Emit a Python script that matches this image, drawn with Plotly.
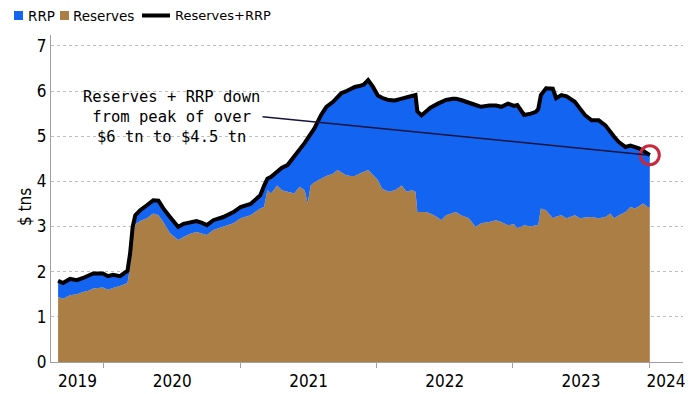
import plotly.graph_objects as go
import pandas as pd

# ---------------- data ----------------
dates = [
    "2019-08-31", "2019-09-13", "2019-10-02", "2019-10-20", "2019-11-06", "2019-11-20",
    "2019-12-03", "2019-12-29", "2020-01-12", "2020-01-25", "2020-02-13", "2020-02-26",
    "2020-03-04", "2020-03-11", "2020-03-18", "2020-03-25", "2020-04-07", "2020-04-25",
    "2020-05-12", "2020-05-26", "2020-06-08", "2020-06-26", "2020-07-18", "2020-08-01",
    "2020-08-19", "2020-09-05", "2020-09-20", "2020-10-03", "2020-10-20", "2020-11-16",
    "2020-12-13",
    "2021-01-01", "2021-01-28", "2021-02-23", "2021-03-05", "2021-03-14", "2021-03-24",
    "2021-04-09", "2021-04-22", "2021-05-07", "2021-05-25", "2021-06-08", "2021-06-22",
    "2021-06-30", "2021-07-08", "2021-07-18", "2021-08-05", "2021-08-19", "2021-09-06",
    "2021-09-18", "2021-09-28", "2021-10-10", "2021-10-22", "2021-11-03", "2021-11-15",
    "2021-11-27", "2021-12-09", "2021-12-22",
    "2022-01-04", "2022-01-15", "2022-02-02", "2022-02-19", "2022-03-09", "2022-03-22",
    "2022-04-05", "2022-04-15", "2022-04-20", "2022-05-01", "2022-05-13", "2022-05-25",
    "2022-06-14", "2022-06-23", "2022-07-06", "2022-07-24", "2022-08-01", "2022-08-15",
    "2022-09-05", "2022-09-23", "2022-10-08", "2022-10-30", "2022-11-17", "2022-12-01",
    "2022-12-19",
    "2023-01-04", "2023-01-13", "2023-01-31", "2023-02-18", "2023-03-04", "2023-03-10",
    "2023-03-17", "2023-03-31", "2023-04-18", "2023-04-27", "2023-05-11", "2023-05-25",
    "2023-06-16", "2023-06-30", "2023-07-13", "2023-07-31", "2023-08-19", "2023-09-06",
    "2023-09-19", "2023-09-30", "2023-10-12", "2023-10-30", "2023-11-12", "2023-11-24",
    "2023-12-05", "2023-12-16", "2023-12-28", "2024-01-03",
]

reserves = [
    1.44, 1.40, 1.48, 1.50, 1.55, 1.58,
    1.63, 1.65, 1.60, 1.64, 1.68, 1.72,
    1.75, 2.10, 2.75, 3.05, 3.12, 3.18,
    3.29, 3.25, 3.10, 2.85, 2.70, 2.77,
    2.84, 2.88, 2.84, 2.81, 2.92, 2.99,
    3.07,
    3.18, 3.25, 3.40, 3.43, 3.80, 3.73,
    3.91, 3.80, 3.77, 3.73, 3.88, 3.80,
    3.51, 3.91, 3.98, 4.06, 4.12, 4.17,
    4.25, 4.20, 4.14, 4.12, 4.12, 4.17,
    4.21, 4.25, 4.14,
    4.03, 3.84, 3.77, 3.80, 3.91, 3.77,
    3.80, 3.77, 3.32, 3.32, 3.32, 3.29,
    3.20, 3.14, 3.25, 3.30, 3.32, 3.25,
    3.18, 2.99, 3.07, 3.10, 3.14, 3.10,
    3.03,
    3.05, 2.96, 3.03, 3.00, 3.03, 3.03,
    3.40, 3.36, 3.18, 3.22, 3.25, 3.18,
    3.25, 3.18, 3.20, 3.21, 3.18, 3.21,
    3.29, 3.18, 3.25, 3.32, 3.43, 3.40,
    3.45, 3.51, 3.43, 3.43,
]

total = [
    1.80, 1.75, 1.84, 1.81, 1.86, 1.90,
    1.96, 1.96, 1.90, 1.93, 1.90, 1.98,
    2.02, 2.40, 3.00, 3.25, 3.36, 3.47,
    3.58, 3.57, 3.40, 3.21, 2.99, 3.06,
    3.10, 3.12, 3.08, 3.03, 3.14, 3.21,
    3.32,
    3.43, 3.50, 3.69, 3.90, 4.06, 4.10,
    4.20, 4.30, 4.36, 4.54, 4.68, 4.85,
    4.95, 5.05, 5.17, 5.47, 5.65, 5.76,
    5.85, 5.95, 5.99, 6.04, 6.09, 6.11,
    6.14, 6.24, 6.09,
    5.90, 5.85, 5.80, 5.79, 5.83, 5.87,
    5.89, 5.91, 5.55, 5.46, 5.55, 5.63,
    5.72, 5.75, 5.80, 5.83, 5.83, 5.80,
    5.73, 5.69, 5.65, 5.68, 5.68, 5.65,
    5.72,
    5.67, 5.69, 5.47, 5.50, 5.54, 5.60,
    5.91, 6.06, 6.05, 5.84, 5.91, 5.88,
    5.76, 5.61, 5.47, 5.35, 5.35, 5.24,
    5.08, 4.98, 4.87, 4.76, 4.79, 4.76,
    4.73, 4.68, 4.62, 4.58,
]

year_labels = ["2019", "2020", "2021", "2022", "2023", "2024"]
y_tick_values = [0, 1, 2, 3, 4, 5, 6, 7]
legend_names = ["RRP", "Reserves", "Reserves+RRP"]
y_title = "$ tns"
note_text = "Reserves + RRP down<br>from peak of over<br>$6 tn to $4.5 tn"
note_line_start = ("2021-03-01", 5.43)

# ---------------- styling ----------------
BLUE = "#1464F2"
BROWN = "#AB7E46"
BLACK = "#000000"
RED = "#C8283C"
AXIS_GREY = "#A0A0A0"
GRID_GREY = "#BDBDBD"
SANS = "DejaVu Sans Condensed, Liberation Sans, Arial, sans-serif"
LEG_FONT = "DejaVu Sans, sans-serif"
MONO = "DejaVu Sans Mono, monospace"

W, H = 700, 394
ML, MR, MT, MB = 51, 17, 35, 32
PW, PH = W - ML - MR, H - MT - MB
x_range = ["2019-08-12", "2024-04-01"]
y_range = [0, 7.24]


def px(x):
    return (x - ML) / PW


def py(y):
    return (H - MB - y) / PH


# tick label positions: centre of the visible part of each year
r0, r1 = pd.Timestamp(x_range[0]), pd.Timestamp(x_range[1])
label_pos = []
for lab in year_labels:
    a = max(r0, pd.Timestamp(f"{lab}-01-01"))
    b = min(r1, pd.Timestamp(f"{int(lab) + 1}-01-01"))
    label_pos.append(a + (b - a) / 2)
year_starts = [pd.Timestamp(f"{y}-01-01") for y in year_labels[1:]]

fig = go.Figure()

fig.add_trace(go.Scatter(
    x=dates, y=reserves, name=legend_names[1], mode="lines",
    line=dict(width=0, color=BROWN), fill="tozeroy", fillcolor=BROWN,
    showlegend=False, hoverinfo="skip",
))
fig.add_trace(go.Scatter(
    x=dates, y=total, name=legend_names[2], mode="lines",
    line=dict(width=4, color=BLACK), fill="tonexty", fillcolor=BLUE,
    showlegend=False, hoverinfo="skip",
))
fig.add_trace(go.Scatter(
    x=[dates[-1]], y=[total[-1]], mode="markers",
    marker=dict(symbol="circle-open", size=19, line=dict(width=3, color=RED), color=RED),
    showlegend=False, hoverinfo="skip",
))

shapes = [
    # annotation leader line
    dict(type="line", xref="x", yref="y", x0=note_line_start[0], y0=note_line_start[1],
         x1=dates[-1], y1=total[-1], line=dict(color="#14143C", width=1.5), layer="above"),
    # manual legend swatches
    dict(type="rect", xref="paper", yref="paper", x0=px(14), x1=px(23), y0=py(20), y1=py(11),
         fillcolor=BLUE, line=dict(width=0)),
    dict(type="rect", xref="paper", yref="paper", x0=px(60), x1=px(69), y0=py(20), y1=py(11),
         fillcolor=BROWN, line=dict(width=0)),
    dict(type="line", xref="paper", yref="paper", x0=px(142), x1=px(170), y0=py(15.5), y1=py(15.5),
         line=dict(color=BLACK, width=4)),
]

annotations = [
    dict(xref="paper", yref="paper", x=px(26), y=py(15.5), text=legend_names[0],
         showarrow=False, xanchor="left", yanchor="middle",
         font=dict(family=LEG_FONT, size=13.5, color="#000")),
    dict(xref="paper", yref="paper", x=px(71), y=py(15.5), text=legend_names[1],
         showarrow=False, xanchor="left", yanchor="middle",
         font=dict(family=LEG_FONT, size=13.5, color="#000")),
    dict(xref="paper", yref="paper", x=px(173), y=py(15.5), text=legend_names[2],
         showarrow=False, xanchor="left", yanchor="middle",
         font=dict(family=LEG_FONT, size=13, color="#000")),
    dict(xref="paper", yref="paper", x=px(171), y=py(117), text=note_text,
         showarrow=False, xanchor="center", yanchor="middle", align="center",
         font=dict(family=MONO, size=15.5, color="#000")),
    dict(xref="paper", yref="paper", x=px(25), y=py(207), text=y_title, textangle=-90,
         showarrow=False, xanchor="center", yanchor="middle",
         font=dict(family=SANS, size=17, color="#000")),
]

fig.update_layout(
    width=W, height=H,
    margin=dict(l=ML, r=MR, t=MT, b=MB, pad=0, autoexpand=False),
    paper_bgcolor="white", plot_bgcolor="white",
    showlegend=False,
    shapes=shapes, annotations=annotations,
    xaxis=dict(
        type="date", range=x_range, automargin=False,
        tickmode="array", tickvals=label_pos, ticktext=year_labels,
        ticks="", showgrid=False, zeroline=False,
        showline=True, linecolor=AXIS_GREY, linewidth=1,
        tickfont=dict(family=SANS, size=17, color="#000"),
        ticklabelstandoff=4,
        minor=dict(tickmode="array", tickvals=year_starts, ticks="outside",
                   ticklen=5, tickcolor=AXIS_GREY, tickwidth=1, showgrid=False),
    ),
    yaxis=dict(
        range=y_range, tickmode="array", tickvals=y_tick_values, automargin=False,
        ticks="", showgrid=True, gridcolor=GRID_GREY, griddash="dot", gridwidth=1,
        zeroline=False, showline=True, linecolor=AXIS_GREY, linewidth=1,
        tickfont=dict(family=SANS, size=17, color="#000"),
    ),
)

fig.write_html(
    "out.html",
    config={"displayModeBar": False, "staticPlot": True},
    post_script="document.body.style.margin='0';document.body.style.overflow='hidden';",
)
